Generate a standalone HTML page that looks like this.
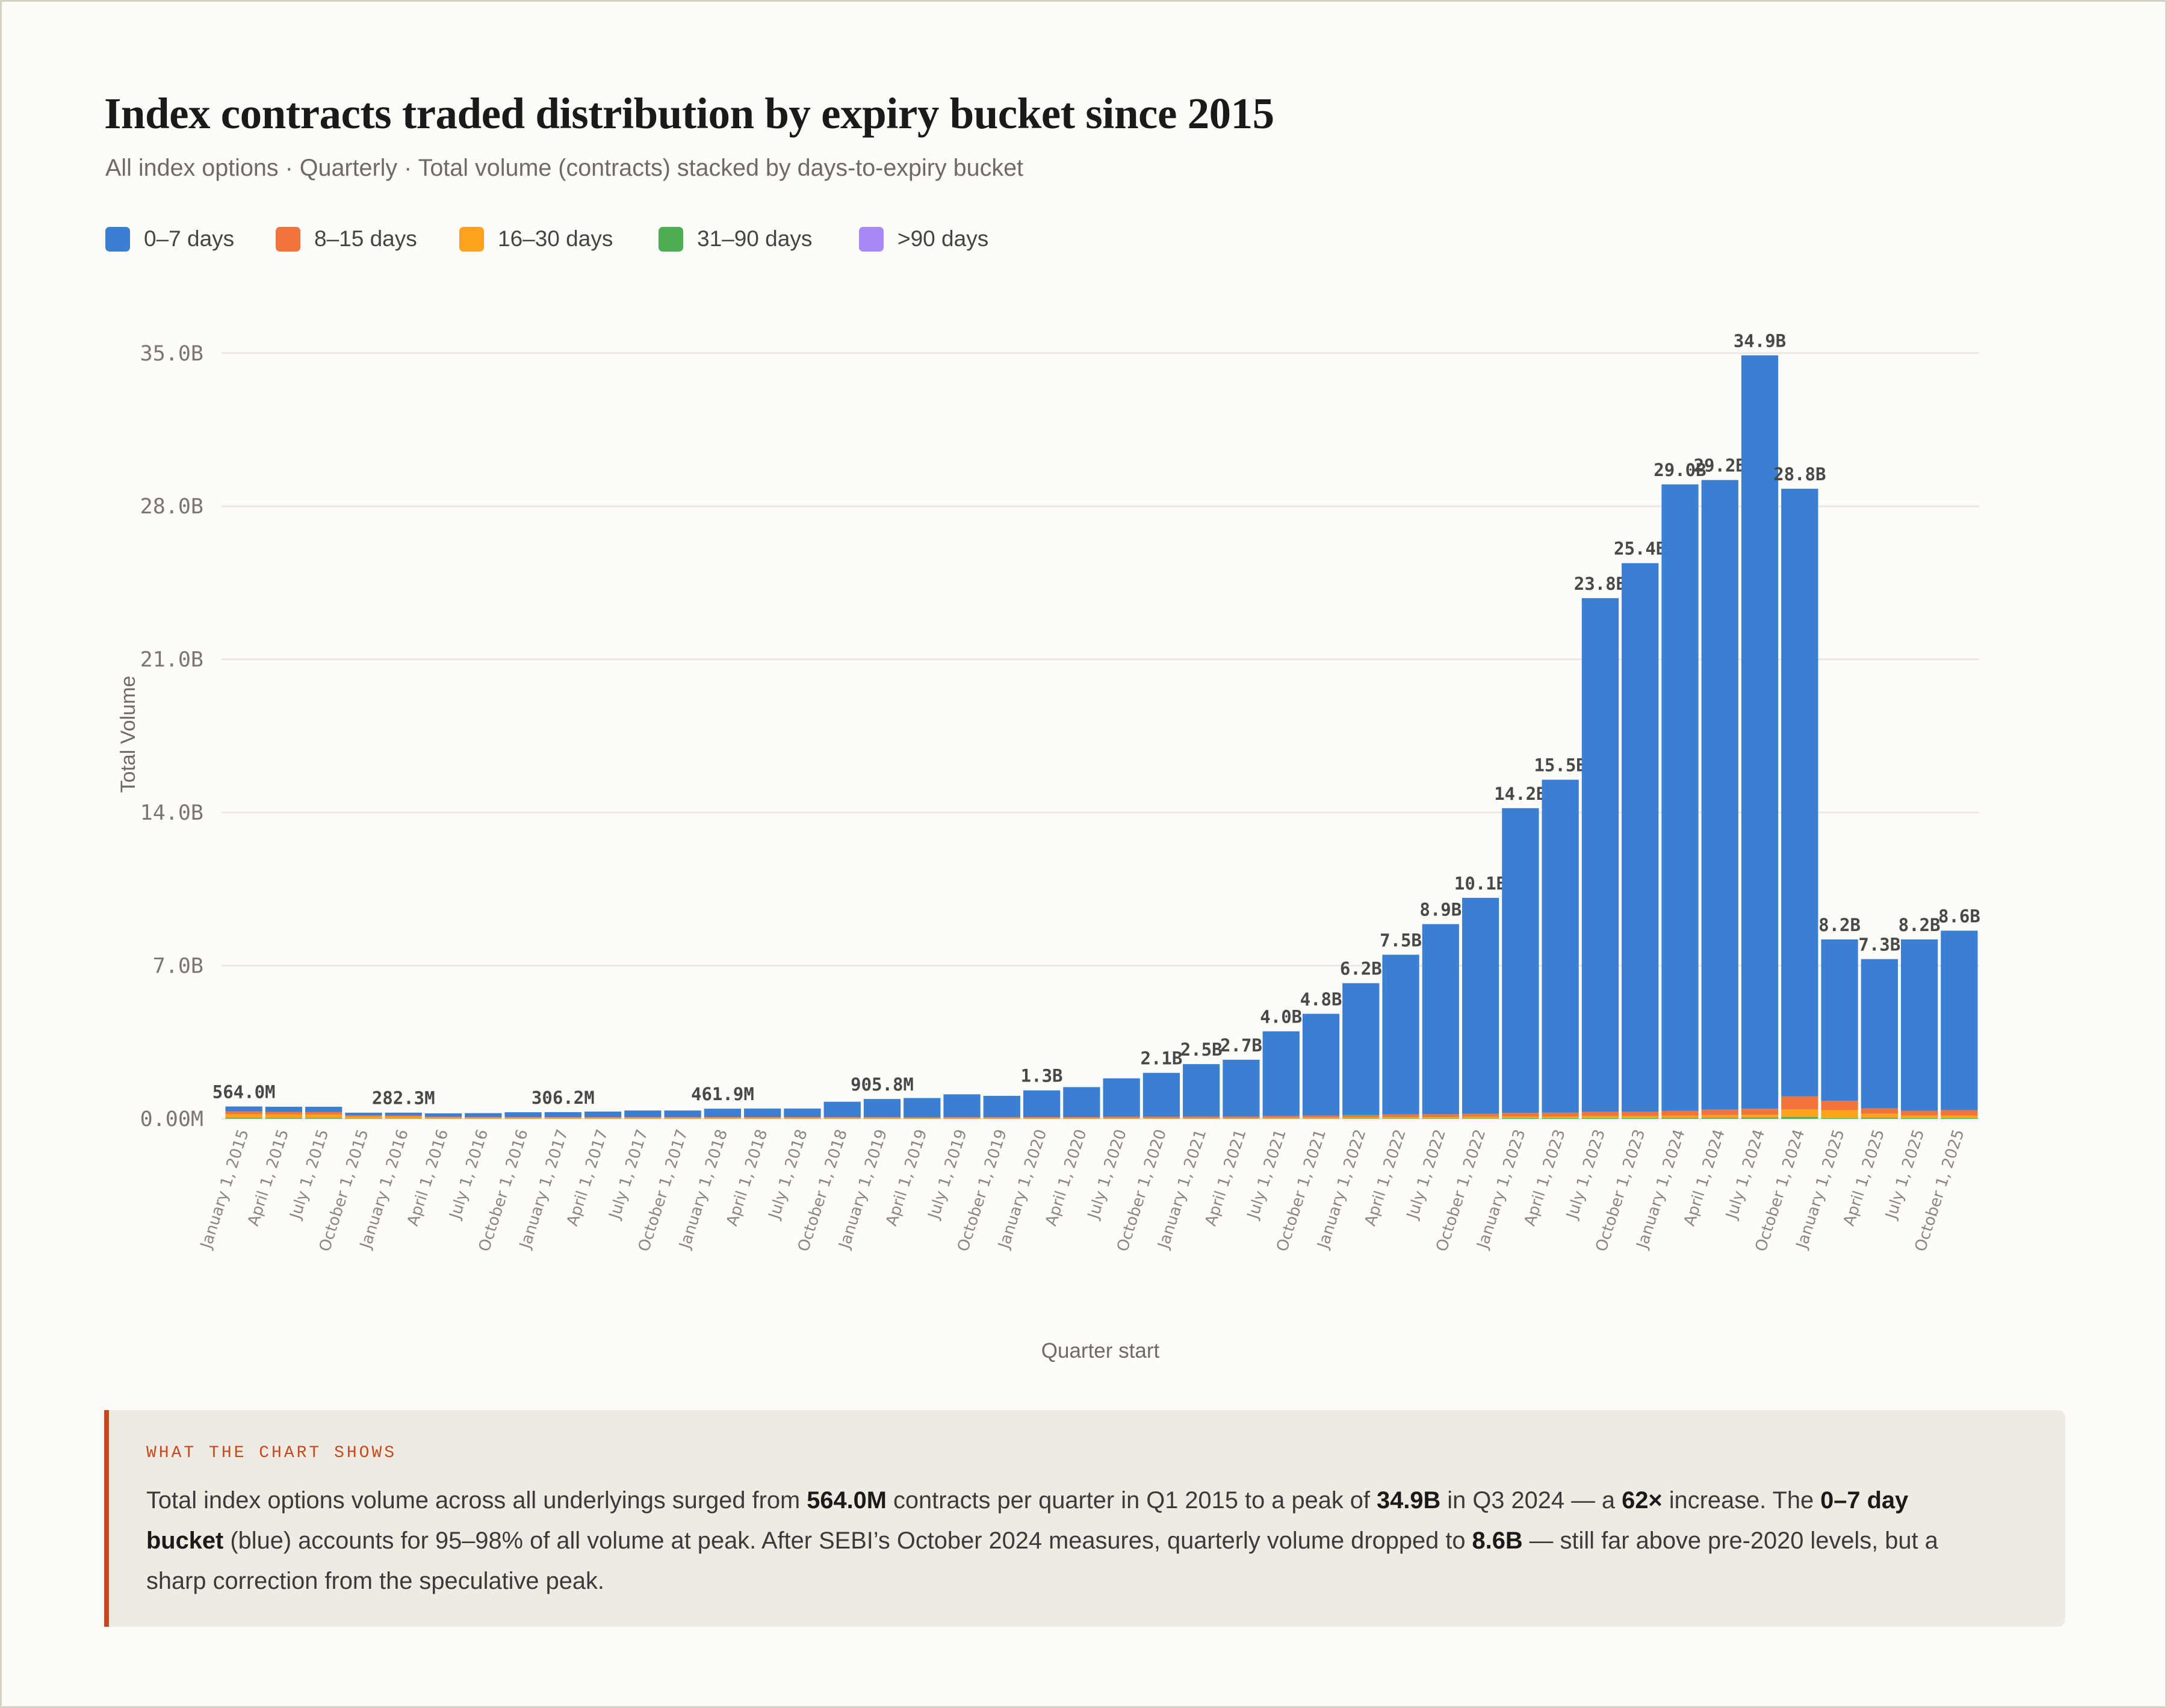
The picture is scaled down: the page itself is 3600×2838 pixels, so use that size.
<!DOCTYPE html>
<html><head><meta charset="utf-8">
<style>
html,body{margin:0;padding:0;background:#fdfcf9;}
#page{position:relative;width:3600px;height:2838px;background:#fdfcf9;box-sizing:border-box;border:3px solid #d6d3c6;overflow:hidden;font-family:"Liberation Sans",sans-serif;}
#title{position:absolute;left:170px;top:144px;font-family:"Liberation Serif",serif;font-weight:bold;font-size:73px;color:#1a1a1a;letter-spacing:-0.5px;white-space:nowrap;}
#subtitle{position:absolute;left:172px;top:254px;font-size:39.5px;color:#6e6b66;white-space:nowrap;}
.leg{position:absolute;top:372px;height:44px;display:flex;align-items:center;font-size:37px;color:#444;white-space:nowrap;}
.leg i{display:inline-block;width:41px;height:41px;border-radius:7px;margin-right:23px;}
#callout{position:absolute;left:170px;top:2340px;width:3258px;height:360px;background:#efebe3;border-left:8px solid #c4491f;border-radius:0 12px 12px 0;box-sizing:border-box;}
#callout-h{position:absolute;left:62px;top:56px;font-family:"Liberation Mono",monospace;font-size:28px;letter-spacing:4px;color:#c4491f;}
#callout-b{position:absolute;left:62px;top:117px;width:3000px;font-size:39.8px;line-height:67px;color:#3a3a3a;}
#callout-b b{color:#1a1a1a;}
</style></head>
<body>
<div id="page">
<div id="title">Index contracts traded distribution by expiry bucket since 2015</div>
<div id="subtitle">All index options · Quarterly · Total volume (contracts) stacked by days-to-expiry bucket</div>
<div class="leg" style="left:172px"><i style="background:#3a7fd1"></i>0–7 days</div>
<div class="leg" style="left:455px"><i style="background:#f0743b"></i>8–15 days</div>
<div class="leg" style="left:760px"><i style="background:#fca31a"></i>16–30 days</div>
<div class="leg" style="left:1091px"><i style="background:#4cae50"></i>31–90 days</div>
<div class="leg" style="left:1424px"><i style="background:#a887f7"></i>&gt;90 days</div>

<svg id="chart" width="3600" height="2300" style="position:absolute;left:-3px;top:-3px"></svg>

<div id="callout">
<div id="callout-h">WHAT THE CHART SHOWS</div>
<div id="callout-b">Total index options volume across all underlyings surged from <b>564.0M</b> contracts per quarter in Q1 2015 to a peak of <b>34.9B</b> in Q3 2024 — a <b>62×</b> increase. The <b>0–7 day bucket</b> (blue) accounts for 95–98% of all volume at peak. After SEBI’s October 2024 measures, quarterly volume dropped to <b>8.6B</b> — still far above pre-2020 levels, but a sharp correction from the speculative peak.</div>
</div>
</div>
<script>
const quarters = ["January 1, 2015","April 1, 2015","July 1, 2015","October 1, 2015","January 1, 2016","April 1, 2016","July 1, 2016","October 1, 2016","January 1, 2017","April 1, 2017","July 1, 2017","October 1, 2017","January 1, 2018","April 1, 2018","July 1, 2018","October 1, 2018","January 1, 2019","April 1, 2019","July 1, 2019","October 1, 2019","January 1, 2020","April 1, 2020","July 1, 2020","October 1, 2020","January 1, 2021","April 1, 2021","July 1, 2021","October 1, 2021","January 1, 2022","April 1, 2022","July 1, 2022","October 1, 2022","January 1, 2023","April 1, 2023","July 1, 2023","October 1, 2023","January 1, 2024","April 1, 2024","July 1, 2024","October 1, 2024","January 1, 2025","April 1, 2025","July 1, 2025","October 1, 2025"];
// values in billions of contracts
const days0to7 = [0.224,0.235,0.245,0.125,0.13,0.16,0.185,0.225,0.231,0.255,0.305,0.305,0.382,0.39,0.39,0.705,0.831,0.88,1.045,0.975,1.22,1.37,1.76,2.01,2.4,2.6,3.87,4.65,6.03,7.3,8.69,9.87,13.93,15.22,23.47,25.07,28.64,28.78,34.44,27.77,7.38,6.82,7.83,8.2];
const days8to15 = [0.12,0.11,0.11,0.05,0.05,0.03,0.025,0.025,0.025,0.025,0.025,0.025,0.03,0.03,0.03,0.03,0.03,0.03,0.035,0.035,0.04,0.04,0.05,0.05,0.06,0.06,0.08,0.09,0.1,0.12,0.13,0.14,0.16,0.17,0.2,0.2,0.22,0.25,0.27,0.6,0.42,0.25,0.22,0.25];
const days16to30 = [0.17,0.16,0.15,0.09,0.09,0.05,0.04,0.04,0.04,0.04,0.04,0.04,0.04,0.04,0.04,0.035,0.035,0.03,0.03,0.03,0.03,0.03,0.03,0.03,0.03,0.03,0.04,0.05,0.05,0.06,0.06,0.07,0.08,0.08,0.1,0.1,0.1,0.12,0.13,0.35,0.37,0.18,0.12,0.12];
const days31to90 = [0.045,0.04,0.04,0.015,0.012,0.01,0.01,0.01,0.01,0.01,0.01,0.01,0.01,0.01,0.01,0.01,0.01,0.01,0.01,0.01,0.01,0.01,0.01,0.01,0.01,0.01,0.01,0.01,0.02,0.02,0.02,0.02,0.03,0.03,0.03,0.03,0.04,0.05,0.06,0.08,0.03,0.05,0.03,0.03];
const days90plus = [0.005,0.005,0.005,0.0,0.0,0.0,0.0,0.0,0.0,0.0,0.0,0.0,0.0,0.0,0.0,0.0,0.0,0.0,0.0,0.0,0.0,0.0,0.0,0.0,0.0,0.0,0.0,0.0,0.0,0.0,0.0,0.0,0.0,0.0,0.0,0.0,0.0,0.0,0.0,0.0,0.0,0.0,0.0,0.0];
const totalLabels = ["564.0M","","","","282.3M","","","","306.2M","","","","461.9M","","","","905.8M","","","","1.3B","","","2.1B","2.5B","2.7B","4.0B","4.8B","6.2B","7.5B","8.9B","10.1B","14.2B","15.5B","23.8B","25.4B","29.0B","29.2B","34.9B","28.8B","8.2B","7.3B","8.2B","8.6B"];
const yTicks = [0,7,14,21,28,35];
const yTickLabels = ["0.00M","7.0B","14.0B","21.0B","28.0B","35.0B"];

const NS="http://www.w3.org/2000/svg";
const svg=document.getElementById('chart');
const X0=372, X1=3288, Y0=1859, PXB=36.35;
const band=(X1-X0)/quarters.length;
function xPos(i){return X0+i*band;}
function yPos(v){return Y0-v*PXB;}
function mk(tag,attrs,parent){const e=document.createElementNS(NS,tag);for(const k in attrs)e.setAttribute(k,attrs[k]);(parent||svg).appendChild(e);return e;}

yTicks.forEach((t,k)=>{
  const g=mk('line',{x1:X0-4,x2:X1,y1:yPos(t),y2:yPos(t),stroke:'#ebe8e1','stroke-width':3});
  
  
  const tx=mk('text',{x:338,y:yPos(t)+12,'text-anchor':'end','font-family':'DejaVu Sans Mono, Liberation Mono, monospace','font-size':35,fill:'#7a7670'});
  tx.textContent=yTickLabels[k];
  
  
});

const order=[days90plus,days31to90,days16to30,days8to15,days0to7];
const colors=['#a887f7','#4cae50','#fca31a','#f0743b','#3a7fd1'];
const names=['bar-segment-90-plus','bar-segment-31-90','bar-segment-16-30','bar-segment-8-15','bar-segment-0-7'];
quarters.forEach((q,i)=>{
  let base=0;
  const x=xPos(i)+2.5, w=band-5;
  order.forEach((arr,s)=>{
    const v=arr[i];
    if(v<=0)return;
    const r=mk('rect',{x:x,y:yPos(base+v),width:w,height:v*PXB,fill:colors[s]});
    
    
    base+=v;
  });
  if(totalLabels[i]){
    const t=mk('text',{x:xPos(i)+band/2,y:yPos(base)-14,'text-anchor':'middle','font-family':'DejaVu Sans Mono, Liberation Mono, monospace','font-weight':'bold','font-size':29,fill:'#484848'});
    t.textContent=totalLabels[i];
    
    
  }
  const cx=xPos(i)+band/2+8, cy=1880;
  const xl=mk('text',{x:cx,y:cy,'text-anchor':'end','font-family':'DejaVu Sans, Liberation Sans, sans-serif','font-size':26,fill:'#8a8782',transform:'rotate(-72 '+cx+' '+cy+')'});
  xl.textContent=q;
  
  
});

const yt=mk('text',{x:224,y:1220,'text-anchor':'middle','font-family':'Liberation Sans, sans-serif','font-size':34,fill:'#6e6b66',transform:'rotate(-90 224 1220)'});
yt.textContent='Total Volume';


const xt=mk('text',{x:1828,y:2256,'text-anchor':'middle','font-family':'Liberation Sans, sans-serif','font-size':35,fill:'#6e6b66'});
xt.textContent='Quarter start';


</script>
</body></html>
